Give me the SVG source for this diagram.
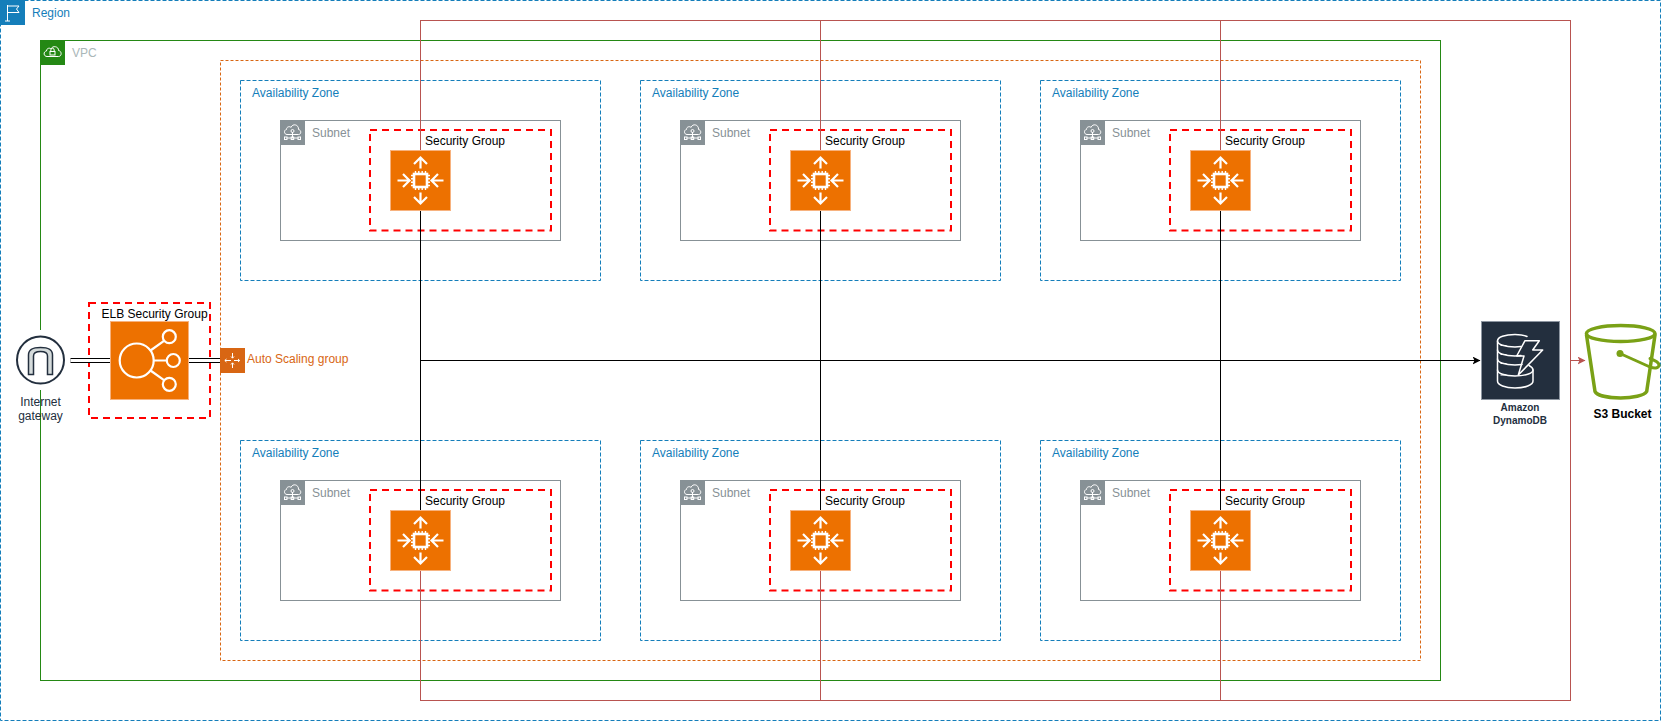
<svg xmlns="http://www.w3.org/2000/svg" width="1661" height="721" viewBox="0 0 1661 721">
<style>
text{font-family:"Liberation Sans",Arial,sans-serif;font-size:12px}
rect.f{fill:none}
.az{stroke:#147EBA;stroke-dasharray:4 2}
.sn{stroke:#879196}
.sg{stroke:#FF0000;stroke-width:2;stroke-dasharray:7 5}
.azt{fill:#147EBA}
.snt{fill:#879196}
.sgt{fill:#000}
.ic{fill:none;stroke:#fff;stroke-width:2.2}
.ict{fill:none;stroke:#fff;stroke-width:1}
.blk{fill:none;stroke:#000;stroke-width:1}
.red{fill:none;stroke:#B85450;stroke-width:1}
.or{fill:#ED7100;stroke:#F7B27E;stroke-width:1}
</style>
<defs>
<marker id="ab" viewBox="0 0 8 8" refX="7.5" refY="4" markerWidth="8" markerHeight="8" markerUnits="userSpaceOnUse" orient="auto"><path d="M0 0L8 4L0 8L2 4Z" fill="#000"/></marker>
<marker id="ar" viewBox="0 0 8 8" refX="7.5" refY="4" markerWidth="8" markerHeight="8" markerUnits="userSpaceOnUse" orient="auto"><path d="M0 0L8 4L0 8L2 4Z" fill="#B85450"/></marker>
<symbol id="sub" width="25" height="25" viewBox="0 0 25 25" overflow="visible">
<rect width="25" height="25" fill="#879196"/>
<path class="ict" d="M7 14.5C4 14.5 3.5 10 6.5 9.5C6.5 6.5 10 6 11 7.5C12.5 3 19 4.5 18.5 9.5C21.5 10 21.5 14.5 18.5 14.5Z"/>
<path class="ict" d="M12.5 12V18M6.5 18H18.5"/>
<rect class="ict" x="4.5" y="17" width="2.5" height="2.5"/><rect class="ict" x="11.2" y="17" width="2.5" height="2.5"/><rect class="ict" x="18" y="17" width="2.5" height="2.5"/>
<circle class="ict" cx="12.5" cy="11" r="1.5"/>
</symbol>
<symbol id="ec2" width="60" height="60" viewBox="0 0 60 60" overflow="visible">
<rect class="or" width="60" height="60"/>
<path class="ic" d="M30 18V8M23.500 13.500L30 7L36.500 13.500M30 42V52M23.500 46.500L30 53L36.500 46.500M7 30H18M12.500 23.500L19 30L12.500 36.500M53 30H42M47.500 23.500L41 30L47.500 36.500"/>
<rect x="23.5" y="23.5" width="13" height="13" fill="none" stroke="#fff" stroke-width="2.6"/>
<path d="M25 20.5V23M28.3 20.5V23M31.7 20.5V23M35 20.5V23M25 37V39.5M28.3 37V39.5M31.7 37V39.5M35 37V39.5M20.5 25H23M20.5 28.3H23M20.5 31.7H23M20.5 35H23M37 25H39.5M37 28.3H39.5M37 31.7H39.5M37 35H39.5" fill="none" stroke="#fff" stroke-width="1.4"/>
</symbol>
</defs>

<g id="region"><rect class="f az" x="0.5" y="0.5" width="1660" height="720"/>
<rect width="25" height="25" fill="#147EBA"/>
<path class="ict" d="M7.500 5V21M5 21H10M7.500 6H19L16.500 9L19 12.500H7.500"/>
<text x="32" y="17" class="azt">Region</text></g>

<g id="redbox"><rect class="f" x="420.500" y="20.500" width="1150" height="680" stroke="#B85450"/></g>

<g id="vpc"><rect class="f" x="40.500" y="40.500" width="1400" height="640" stroke="#248814"/>
<rect x="40" y="40" width="25" height="25" fill="#248814"/>
<path class="ict" d="M47 56.500C43.500 56.500 43 51.500 46.500 51C46.500 48 50 47.500 51 49C52.500 45 59 46.500 58.500 50.500C62 51 62 56.500 58.500 56.500Z"/>
<rect class="ict" x="50" y="51.500" width="5" height="3.500"/><path class="ict" d="M50.800 51.500V50A1.700 1.700 0 0 1 54.200 50V51.500"/>
<text x="72" y="57" fill="#AAB7B8">VPC</text></g>

<g id="asg"><rect class="f" x="220.500" y="60.500" width="1200" height="600" stroke="#D86613" stroke-dasharray="3 2"/></g>

<g id="az1"><rect class="f az" x="240.500" y="80.500" width="360" height="200"/><text x="252" y="97" class="azt">Availability Zone</text></g>
<g id="az2"><rect class="f az" x="640.500" y="80.500" width="360" height="200"/><text x="652" y="97" class="azt">Availability Zone</text></g>
<g id="az3"><rect class="f az" x="1040.500" y="80.500" width="360" height="200"/><text x="1052" y="97" class="azt">Availability Zone</text></g>
<g id="az4"><rect class="f az" x="240.500" y="440.500" width="360" height="200"/><text x="252" y="457" class="azt">Availability Zone</text></g>
<g id="az5"><rect class="f az" x="640.500" y="440.500" width="360" height="200"/><text x="652" y="457" class="azt">Availability Zone</text></g>
<g id="az6"><rect class="f az" x="1040.500" y="440.500" width="360" height="200"/><text x="1052" y="457" class="azt">Availability Zone</text></g>

<g id="subnet1"><rect class="f sn" x="280.500" y="120.500" width="280" height="120"/><use href="#sub" x="280" y="120"/><text x="312" y="137" class="snt">Subnet</text></g>
<g id="subnet2"><rect class="f sn" x="680.500" y="120.500" width="280" height="120"/><use href="#sub" x="680" y="120"/><text x="712" y="137" class="snt">Subnet</text></g>
<g id="subnet3"><rect class="f sn" x="1080.500" y="120.500" width="280" height="120"/><use href="#sub" x="1080" y="120"/><text x="1112" y="137" class="snt">Subnet</text></g>
<g id="subnet4"><rect class="f sn" x="280.500" y="480.500" width="280" height="120"/><use href="#sub" x="280" y="480"/><text x="312" y="497" class="snt">Subnet</text></g>
<g id="subnet5"><rect class="f sn" x="680.500" y="480.500" width="280" height="120"/><use href="#sub" x="680" y="480"/><text x="712" y="497" class="snt">Subnet</text></g>
<g id="subnet6"><rect class="f sn" x="1080.500" y="480.500" width="280" height="120"/><use href="#sub" x="1080" y="480"/><text x="1112" y="497" class="snt">Subnet</text></g>

<g id="sg1"><rect class="f sg" x="370" y="130" width="181" height="100.500"/><text x="425" y="145" class="sgt">Security Group</text></g>
<g id="sg2"><rect class="f sg" x="770" y="130" width="181" height="100.500"/><text x="825" y="145" class="sgt">Security Group</text></g>
<g id="sg3"><rect class="f sg" x="1170" y="130" width="181" height="100.500"/><text x="1225" y="145" class="sgt">Security Group</text></g>
<g id="sg4"><rect class="f sg" x="370" y="490" width="181" height="100.500"/><text x="425" y="505" class="sgt">Security Group</text></g>
<g id="sg5"><rect class="f sg" x="770" y="490" width="181" height="100.500"/><text x="825" y="505" class="sgt">Security Group</text></g>
<g id="sg6"><rect class="f sg" x="1170" y="490" width="181" height="100.500"/><text x="1225" y="505" class="sgt">Security Group</text></g>

<g id="elb-sg"><rect class="f sg" x="89" y="303" width="121" height="115"/><text x="101.500" y="318" class="sgt">ELB Security Group</text></g>

<g id="connectors">
<path class="red" d="M820.500 20.500V150M1220.500 20.500V150M420.500 570V700.500M820.500 570V700.500M1220.500 570V700.500M420.500 20.500V150"/>
<path class="red" d="M1570.500 360.500H1585" marker-end="url(#ar)"/>
<path class="blk" d="M420.500 210V510M820.500 210V510M1220.500 210V510"/>
<path class="blk" d="M420.500 360.500H1480" marker-end="url(#ab)"/>
<path fill="none" stroke="#000" stroke-width="5" d="M70.500 360.500H110M189 360.500H220"/>
<path fill="none" stroke="#fff" stroke-width="3" d="M70.500 360.500H110M189 360.500H220"/>
</g>

<g id="asg-icon"><rect x="220" y="348" width="25" height="25" fill="#D86613"/>
<path class="ict" d="M225 360.500H231M239.500 360.500H234M232.500 353V358M232.500 368V363M226.500 359L224.800 360.500L226.500 362M238 359L239.700 360.500L238 362M231 356.500L232.500 358.200L234 356.500M231 364.500L232.500 362.800L234 364.500"/>
<text x="247" y="363" fill="#D86613">Auto Scaling group</text></g>

<g id="ec2-1"><use href="#ec2" x="390.500" y="150.500"/></g>
<g id="ec2-2"><use href="#ec2" x="790.500" y="150.500"/></g>
<g id="ec2-3"><use href="#ec2" x="1190.500" y="150.500"/></g>
<g id="ec2-4"><use href="#ec2" x="390.500" y="510.500"/></g>
<g id="ec2-5"><use href="#ec2" x="790.500" y="510.500"/></g>
<g id="ec2-6"><use href="#ec2" x="1190.500" y="510.500"/></g>

<g id="igw"><rect x="15" y="330" width="50" height="60" fill="#fff"/>
<circle cx="40.500" cy="360" r="23.500" fill="#fff" stroke="#232F3E" stroke-width="2"/>
<path fill="#D5DBDB" stroke="#232F3E" stroke-width="1.500" d="M28.500 374.500V355C28.500 349 33 347.500 40.500 347.500C48 347.500 52.500 349 52.500 355V374.500H47.500V356C47.500 352.500 44 351.500 40.500 351.500C37 351.500 33.500 352.500 33.500 356V374.500Z"/>
<text x="40.500" y="406" text-anchor="middle" fill="#232F3E">Internet</text>
<text x="40.500" y="420" text-anchor="middle" fill="#232F3E">gateway</text></g>

<g id="elb"><rect class="or" x="110.500" y="321.500" width="78" height="78"/>
<g fill="none" stroke="#fff" stroke-width="2.200"><circle cx="136.700" cy="360.500" r="17"/><circle cx="169.300" cy="336.700" r="6.500"/><circle cx="173.300" cy="360.500" r="6.500"/><circle cx="169.300" cy="384.300" r="6.500"/><path d="M153.700 360.500H166.800M150.500 350.500L164 340.800M150.500 370.500L164 380.200"/></g></g>

<g id="dynamodb"><rect x="1481.500" y="321.500" width="78" height="78" fill="#232F3E" stroke="#8D96A1"/>
<g fill="none" stroke="#fff" stroke-width="1.500" stroke-linecap="round" stroke-linejoin="round">
<path d="M1527 336.500C1524 335 1519 334.500 1515 334.500C1505 334.500 1497.500 337 1497.500 341V381C1497.500 385 1505 388 1515 388C1525 388 1533 385 1533 381V370"/>
<path d="M1497.500 341C1497.500 344.500 1505 347 1515 347L1521 346.500M1497.500 350C1497.500 353.500 1505 356 1515 356L1521 355.500M1497.500 359C1497.500 362.500 1505 365 1515 365L1522 364.500M1497.500 370C1497.500 373.500 1505 376 1515 376C1525 376 1533 373.500 1533 370C1533 368 1531 366.500 1529 365.500"/>
<path d="M1501 345.500H1506M1501 354.500H1506M1501 363.500H1506M1501 375H1506" stroke-width="1.200"/>
<path d="M1525 340.700H1539.300L1532.700 350H1542.700L1518.300 375L1524 356H1516.700Z"/>
</g>
<text x="1520" y="411" text-anchor="middle" font-weight="bold" style="font-size:10px" fill="#232F3E">Amazon</text>
<text x="1520" y="424" text-anchor="middle" font-weight="bold" style="font-size:10px" fill="#232F3E">DynamoDB</text></g>

<g id="s3"><g fill="none" stroke="#7AA116" stroke-width="3.500" stroke-linecap="round" stroke-linejoin="round">
<ellipse cx="1620.700" cy="333.500" rx="34.300" ry="8"/>
<path d="M1586.500 335L1595 391.500C1599 400 1642 400 1646.700 391.500L1655 335"/>
<path d="M1620 353.500L1650 367C1656 369 1659 367.500 1659 365C1659 362.500 1654 360 1650 358.500" stroke-width="3"/>
</g><circle cx="1620" cy="353.500" r="3.500" fill="#7AA116"/>
<text x="1622.500" y="418" text-anchor="middle" font-weight="bold" fill="#000">S3 Bucket</text></g>
</svg>
